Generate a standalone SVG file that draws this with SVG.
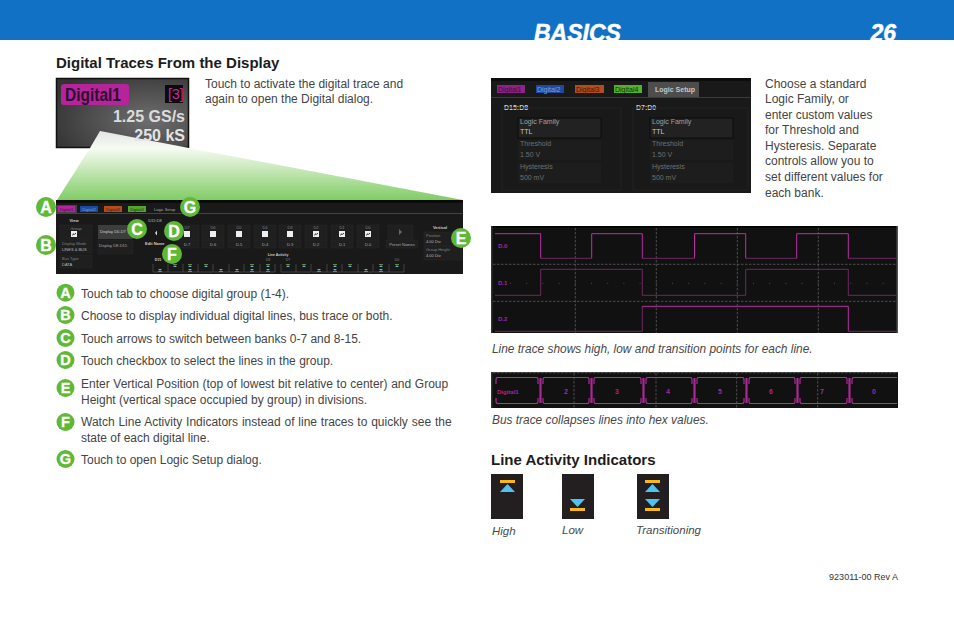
<svg xmlns="http://www.w3.org/2000/svg" xmlns:xlink="http://www.w3.org/1999/xlink" width="954" height="618" viewBox="0 0 954 618">
<style>
text{font-family:"Liberation Sans",Arial,sans-serif;fill:#444}
.b{font-size:12px}
.h{font-size:15px;font-weight:bold;fill:#1c1c1c}
.i{font-size:11.5px;font-style:italic;fill:#484848}
.c{font-size:11.9px;font-style:italic;fill:#484848}
.bl{font-size:16px;font-weight:bold;fill:#fff;text-anchor:middle;stroke:#fff;stroke-width:.3}
.bs{font-size:14.5px;font-weight:bold;fill:#fff;text-anchor:middle;stroke:#fff;stroke-width:.3}
.t{font-size:4px;fill:#808080}
.tc{font-size:4px;fill:#808080;text-anchor:middle}
.w{font-size:4px;fill:#ccc;text-anchor:middle;font-weight:bold}
.s{font-size:7px;fill:#6f6f6f}
.sw{font-size:7px;fill:#c8c8c8}
.g{stroke:#5c5c5c;stroke-width:.8;stroke-dasharray:2.5 1.5;fill:none}
.tr{stroke:#bb2fa4;stroke-width:1;fill:none}
.trd{stroke:#6c2a60;stroke-width:1;fill:none}
.bus{stroke:#b82ea2;stroke-width:1.100;fill:none}
.bar{stroke:#a62c94;stroke-width:2.200;fill:none}
.lab{font-size:6px;font-weight:bold;fill:#a8259a}
.box{fill:#1f1f1f;stroke:#2a2a2a;stroke-width:.5}
.hd{font-size:23px;font-weight:bold;font-style:italic;fill:#fff;stroke:#fff;stroke-width:.5}
</style>
<defs>
<linearGradient id="gr" x1="0" y1="0" x2="0" y2="1"><stop offset="0" stop-color="#e4e4e4"/><stop offset=".25" stop-color="#f6fbf2"/><stop offset="1" stop-color="#82cc66"/></linearGradient>
<radialGradient id="sc" cx=".7" cy=".6" r=".8"><stop offset="0" stop-color="#6e6e6e"/><stop offset="1" stop-color="#333"/></radialGradient>
<g id="hi"><rect x="-2" y="-3.800" width="4" height=".7" fill="#9fb04a"/><path d="M-2-1h4l-2-1.800z" fill="#5fb8dc"/></g>
<g id="lo"><rect x="-2" y="3.100" width="4" height=".7" fill="#9fb04a"/><path d="M-2 1h4l-2 1.800z" fill="#5fb8dc"/></g>
<g id="cb"><rect x="-3" y="-3" width="6" height="6" fill="#eee"/></g>
<g id="cc"><rect x="-3" y="-3" width="6" height="6" fill="#eee"/><path d="M-1.800 1.200L0-.2l.6.6 1.200-1.400" stroke="#222" fill="none"/></g>
</defs>

<g id="header"><rect width="954" height="40" fill="#1172c5"/>
<text x="534" y="41" class="hd">BASICS</text>
<text x="870.500" y="41" class="hd">26</text>
<rect y="40" width="954" height="3" fill="#fff"/></g>

<text class="h" x="56" y="68">Digital Traces From the Display</text>
<g id="screenshot"><rect x="56.500" y="78.500" width="132" height="69" fill="url(#sc)" stroke="#111" stroke-width="1.500"/>
<rect x="61" y="84" width="68" height="21" rx="3" fill="#b5249a"/>
<text x="65" y="101" textLength="56" lengthAdjust="spacingAndGlyphs" style="font-size:17.500px;font-weight:bold;fill:#2c1030">Digital1</text>
<rect x="165" y="85" width="18" height="18" fill="#0c0c0c"/>
<text x="168" y="99" style="font-size:14px;fill:#c22aa8">[3]</text></g>
<g id="zoom-wedge"><path d="M57 200L90 148L100 131L463 200Z" fill="url(#gr)"/></g>
<g id="screenshot-values">
<text x="185" y="122" text-anchor="end" style="font-size:16px;font-weight:bold;fill:#dcdcdc">1.25 GS/s</text>
<text x="185" y="141" text-anchor="end" style="font-size:16px;font-weight:bold;fill:#e4e4e4">250 kS</text></g>
<text class="b" x="205" y="88">Touch to activate the digital trace and</text>
<text class="b" x="205" y="103">again to open the Digital dialog.</text>

<g id="digital-dialog"><rect x="56" y="200" width="407" height="74" fill="#191919"/>
<rect x="56" y="200" width="407" height="3" fill="#0b0b0b"/>
<rect x="56" y="213" width="407" height="1" fill="#444"/>
<rect x="56" y="205" width="21" height="8" fill="#444"/>
<rect x="58" y="206" width="17" height="6" fill="#b5249a"/><text x="66.500" y="210.500" class="tc" style="fill:#401040">Digital1</text>
<rect x="80" y="206" width="18" height="6" fill="#1d4aa0"/><text x="89" y="210.500" class="tc" style="fill:#7aa0e0">Digital2</text>
<rect x="104" y="206" width="18" height="6" fill="#b04e1e"/><text x="113" y="210.500" class="tc" style="fill:#401808">Digital3</text>
<rect x="128" y="206" width="18" height="6" fill="#52a82e"/><text x="137" y="210.500" class="tc" style="fill:#153008">Digital4</text>
<text x="154" y="210.500" class="t" style="fill:#aaa">Logic Setup</text>
<text x="74" y="221.500" class="w">View</text>
<rect x="60" y="225" width="32" height="14" class="box"/><text x="76" y="229.500" class="tc">Group</text><use xlink:href="#cc" x="74" y="234"/>
<rect x="60" y="240" width="32" height="13" class="box"/><text x="62" y="244.500" class="t">Display Mode</text><text x="62" y="251" class="t" style="fill:#bbb">LINES &amp; BUS</text>
<rect x="60" y="255" width="32" height="13" class="box"/><text x="62" y="259.500" class="t">Bus Type</text><text x="62" y="266" class="t" style="fill:#bbb">DATA</text>
<rect x="98" y="225" width="35" height="14" fill="#3d3d3d"/><text x="100" y="233" class="t" style="fill:#ccc">Display D0-D7</text>
<rect x="98" y="240" width="35" height="14" class="box"/><text x="99" y="247" class="t" style="fill:#aaa">Display D8-D15</text>
<text x="155" y="221.500" class="tc" style="fill:#bbb">D15:D8</text>
<path d="M157 230.500l-2 2.500 2 2.500z" fill="#ddd"/>
<text x="145" y="245" class="w" style="text-anchor:start">Edit Name</text>
<g id="channels">
<rect x="177" y="225" width="22" height="14" class="box"/><rect x="202" y="225" width="22" height="14" class="box"/><rect x="228" y="225" width="22" height="14" class="box"/><rect x="254" y="225" width="22" height="14" class="box"/><rect x="279" y="225" width="22" height="14" class="box"/><rect x="305" y="225" width="22" height="14" class="box"/><rect x="331" y="225" width="22" height="14" class="box"/><rect x="357" y="225" width="22" height="14" class="box"/>
<text x="187" y="228.500" class="tc">D7</text><text x="213" y="228.500" class="tc">D6</text><text x="239" y="228.500" class="tc">D5</text><text x="265" y="228.500" class="tc">D4</text><text x="290" y="228.500" class="tc">D3</text><text x="316" y="228.500" class="tc">D2</text><text x="342" y="228.500" class="tc">D1</text><text x="368" y="228.500" class="tc">D0</text>
<use xlink:href="#cb" x="187" y="234"/><use xlink:href="#cb" x="213" y="234"/><use xlink:href="#cb" x="239" y="234"/><use xlink:href="#cb" x="265" y="234"/><use xlink:href="#cb" x="290" y="234"/><use xlink:href="#cc" x="316" y="234"/><use xlink:href="#cc" x="342" y="234"/><use xlink:href="#cc" x="368" y="234"/>
<rect x="177" y="240" width="22" height="8" class="box"/><rect x="202" y="240" width="22" height="8" class="box"/><rect x="228" y="240" width="22" height="8" class="box"/><rect x="254" y="240" width="22" height="8" class="box"/><rect x="279" y="240" width="22" height="8" class="box"/><rect x="305" y="240" width="22" height="8" class="box"/><rect x="331" y="240" width="22" height="8" class="box"/><rect x="357" y="240" width="22" height="8" class="box"/>
<text x="187" y="245.500" class="tc" style="fill:#aaa">D.7</text><text x="213" y="245.500" class="tc" style="fill:#aaa">D.6</text><text x="239" y="245.500" class="tc" style="fill:#aaa">D.5</text><text x="265" y="245.500" class="tc" style="fill:#aaa">D.4</text><text x="290" y="245.500" class="tc" style="fill:#aaa">D.3</text><text x="316" y="245.500" class="tc" style="fill:#aaa">D.2</text><text x="342" y="245.500" class="tc" style="fill:#aaa">D.1</text><text x="368" y="245.500" class="tc" style="fill:#aaa">D.0</text>
</g>
<rect x="388" y="225" width="25" height="14" class="box"/><path d="M399 229l3 3-3 3z" fill="#666"/>
<rect x="386" y="240" width="32" height="8" class="box"/><text x="402" y="245.500" class="tc" style="fill:#aaa">Preset Names</text>
<text x="440" y="228.500" class="w">Vertical</text>
<rect x="424" y="232" width="38" height="14" class="box"/><text x="426" y="236.500" class="t">Position</text><text x="426" y="242.500" class="t" style="fill:#bbb">4.00 Div</text>
<rect x="424" y="246" width="38" height="14" class="box"/><text x="426" y="250.500" class="t">Group Height</text><text x="426" y="256.500" class="t" style="fill:#bbb">4.00 Div</text>
<text x="278" y="255.500" class="w" style="font-size:3.500px">Line Activity</text>
<text x="158" y="261" class="w" style="font-size:3.500px">D15</text><text x="268" y="261" class="tc" style="font-size:3.500px">D8</text><text x="288" y="261" class="tc" style="font-size:3.500px">D7</text><text x="397" y="261" class="tc" style="font-size:3.500px">D0</text>
<g id="activity" fill="none" stroke="#6e6e6e" stroke-width=".5">
<path d="M153 264v8h15v-8M168 272h15v-8M183 272h15v-8M198 272h15v-8M214 272h15v-8M229 272h15v-8M245 272h15v-8M260 272h15v-8M281 264v8h15v-8M296 272h15v-8M312 272h15v-8M327 272h15v-8M343 272h15v-8M358 272h15v-8M374 272h15v-8M389 272h15v-8"/>
</g>
<use xlink:href="#lo" x="160" y="268"/><use xlink:href="#hi" x="175" y="268"/><use xlink:href="#hi" x="190" y="268"/><use xlink:href="#lo" x="190" y="268"/><use xlink:href="#hi" x="206" y="268"/><use xlink:href="#lo" x="221" y="268"/><use xlink:href="#lo" x="237" y="268"/><use xlink:href="#hi" x="252" y="268"/><use xlink:href="#lo" x="252" y="268"/><use xlink:href="#hi" x="268" y="268"/><use xlink:href="#lo" x="268" y="268"/><use xlink:href="#hi" x="288" y="268"/><use xlink:href="#hi" x="304" y="268"/><use xlink:href="#lo" x="319" y="268"/><use xlink:href="#hi" x="335" y="268"/><use xlink:href="#lo" x="335" y="268"/><use xlink:href="#hi" x="350" y="268"/><use xlink:href="#lo" x="366" y="268"/><use xlink:href="#hi" x="381" y="268"/><use xlink:href="#lo" x="381" y="268"/><use xlink:href="#hi" x="397" y="268"/>
</g>

<g id="callouts" fill="#5fb936">
<circle cx="46" cy="207" r="10"/><circle cx="190" cy="207" r="10"/><circle cx="46" cy="245" r="10"/><circle cx="137" cy="229" r="10"/><circle cx="174" cy="231" r="10"/><circle cx="172" cy="254" r="10"/><circle cx="461" cy="238" r="10"/>
<circle cx="65.500" cy="292.700" r="9"/><circle cx="65.500" cy="315" r="9"/><circle cx="65.500" cy="338" r="9"/><circle cx="65.500" cy="360" r="9"/><circle cx="65.500" cy="388" r="9"/><circle cx="65.500" cy="422" r="9"/><circle cx="65.500" cy="459" r="9"/>
</g>
<g id="callout-labels">
<text class="bl" x="46" y="212.700">A</text><text class="bl" x="190" y="212.700">G</text><text class="bl" x="46" y="250.700">B</text><text class="bl" x="137" y="234.700">C</text><text class="bl" x="174" y="236.700">D</text><text class="bl" x="172" y="259.700">F</text><text class="bl" x="461" y="243.700">E</text>
<text class="bs" x="65.500" y="298">A</text><text class="bs" x="65.500" y="320.200">B</text><text class="bs" x="65.500" y="343.200">C</text><text class="bs" x="65.500" y="365.200">D</text><text class="bs" x="65.500" y="393.200">E</text><text class="bs" x="65.500" y="427.200">F</text><text class="bs" x="65.500" y="464.200">G</text>
</g>
<g id="steps">
<text class="b" x="81" y="298">Touch tab to choose digital group (1-4).</text>
<text class="b" x="81" y="320">Choose to display individual digital lines, bus trace or both.</text>
<text class="b" x="81" y="343">Touch arrows to switch between banks 0-7 and 8-15.</text>
<text class="b" x="81" y="365">Touch checkbox to select the lines in the group.</text>
<text class="b" x="81" y="388" word-spacing=".27">Enter Vertical Position (top of lowest bit relative to center) and Group</text>
<text class="b" x="81" y="404">Height (vertical space occupied by group) in divisions.</text>
<text class="b" x="81" y="426" word-spacing=".5">Watch Line Activity Indicators instead of line traces to quickly see the</text>
<text class="b" x="81" y="442">state of each digital line.</text>
<text class="b" x="81" y="464">Touch to open Logic Setup dialog.</text>
</g>

<g id="logic-setup"><rect x="491" y="78" width="260" height="115" fill="#191919"/>
<rect x="491" y="78" width="260" height="3" fill="#0d0d0d"/>
<rect x="491" y="97" width="260" height="1" fill="#3c3c3c"/>
<rect x="497" y="85" width="28" height="8" fill="#8d2288"/><text x="498" y="92" class="sw" style="fill:#3a103a">Digital1</text>
<rect x="536" y="85" width="28" height="8" fill="#1d4aa0"/><text x="537" y="92" class="sw" style="fill:#7aa0e0">Digital2</text>
<rect x="575" y="85" width="29" height="8" fill="#b04e1e"/><text x="576" y="92" class="sw" style="fill:#401808">Digital3</text>
<rect x="614" y="85" width="28" height="8" fill="#52b02e"/><text x="615" y="92" class="sw" style="fill:#153008">Digital4</text>
<rect x="648" y="82" width="51" height="15" fill="#4d4d4d"/><text x="655" y="92" class="sw" style="font-weight:bold">Logic Setup</text>
<text x="504" y="110" class="sw" style="font-weight:bold">D15:D8</text><text x="636" y="110" class="sw" style="font-weight:bold">D7:D0</text>
<rect x="502" y="108" width="119" height="82" fill="none" stroke="#222"/><rect x="633" y="108" width="115" height="82" fill="none" stroke="#222"/>
<rect x="518" y="118" width="83" height="20" fill="#222" stroke="#0c0c0c"/><rect x="650" y="118" width="83" height="20" fill="#222" stroke="#0c0c0c"/>
<rect x="518" y="140" width="83" height="20" fill="#1d1d1d"/><rect x="650" y="140" width="83" height="20" fill="#1d1d1d"/>
<rect x="518" y="163" width="83" height="20" fill="#1d1d1d"/><rect x="650" y="163" width="83" height="20" fill="#1d1d1d"/>
<text x="520" y="124" class="s" style="fill:#a0a0a0">Logic Family</text><text x="520" y="134" class="sw">TTL</text>
<text x="520" y="146" class="s">Threshold</text><text x="520" y="157" class="s">1.50 V</text>
<text x="520" y="169" class="s">Hysteresis</text><text x="520" y="180" class="s">500 mV</text>
<text x="652" y="124" class="s" style="fill:#a0a0a0">Logic Family</text><text x="652" y="134" class="sw">TTL</text>
<text x="652" y="146" class="s">Threshold</text><text x="652" y="157" class="s">1.50 V</text>
<text x="652" y="169" class="s">Hysteresis</text><text x="652" y="180" class="s">500 mV</text>
</g>
<g id="logic-text">
<text class="b" x="765" y="88">Choose a standard</text>
<text class="b" x="765" y="103">Logic Family, or</text>
<text class="b" x="765" y="119">enter custom values</text>
<text class="b" x="765" y="134">for Threshold and</text>
<text class="b" x="765" y="150">Hysteresis. Separate</text>
<text class="b" x="765" y="165">controls allow you to</text>
<text class="b" x="765" y="181">set different values for</text>
<text class="b" x="765" y="197">each bank.</text>
</g>

<g id="line-trace"><rect x="491" y="226" width="407" height="107" fill="#111"/>
<rect x="491" y="226" width="407" height="1.500" fill="#000"/><rect x="491" y="226" width="1.500" height="107" fill="#333"/><rect x="896.500" y="226" width="1.500" height="107" fill="#555"/>
<path class="g" d="M575.300 228V333M656.300 228V333M737.300 228V333M818.300 228V333M493 264.300H897M493 301.300H897"/>
<path d="M510 283.300H896" stroke="#4a4a4a" stroke-width="1" stroke-dasharray="1 15.200" fill="none"/>
<path class="trd" d="M540.700 258.300H591.700M642.300 258.300H694.500M745.700 258.300H796.700M848.300 258.300H896"/>
<path class="tr" d="M495 233.700H540.700V258.300M591.700 258.300V233.700H642.300V258.300M694.500 258.300V233.700H745.700V258.300M796.700 258.300V233.700H848.300V258.300"/>
<path class="trd" d="M495 295.300H540.700V269.300H642.300V295.300H745.700V269.300H848.300V295.300H896"/>
<path class="trd" d="M495 331.300H642.300V306.300"/><path class="tr" d="M642.300 306.300H848.300V331.300"/><path class="trd" d="M848.300 331.300H896"/>
<text class="lab" x="498" y="248">D.0</text><text class="lab" x="498" y="285">D.1</text><text class="lab" x="498" y="321">D.2</text>
</g>
<text class="c" x="492" y="353">Line trace shows high, low and transition points for each line.</text>

<g id="bus-trace"><rect x="491" y="372" width="407" height="36" fill="#111"/>
<rect x="491" y="372" width="407" height="1" fill="#333"/><rect x="491" y="372" width="1.500" height="36" fill="#333"/>
<path class="g" d="M574 373V408M656 373V408M736.700 373V408M817.700 373V408M493 372.800H897"/>
<path class="bus" d="M496 384V379L497 377.500H537L538 379V384M496 398V402L497 403.500H537L538 402V398M543 384V379L544 377.500H588L589 379V384M543 398V402L544 403.500H588L589 402V398M594 384V379L595 377.500H640L641 379V384M594 398V402L595 403.500H640L641 402V398M646 384V379L647 377.500H691L692 379V384M646 398V402L647 403.500H691L692 402V398M697 384V379L698 377.500H743L744 379V384M697 398V402L698 403.500H743L744 402V398M749 384V379L750 377.500H794L795 379V384M749 398V402L750 403.500H794L795 402V398M800 384V379L801 377.500H846L847 379V384M800 398V402L801 403.500H846L847 402V398M852 384V379L853 377.500H897M852 398V402L853 403.500H897"/>
<path class="bar" d="M540.500 378V403M591.500 378V403M643.500 378V403M694.500 378V403M746.500 378V403M797.500 378V403M849.500 378V403"/>
<text class="lab" x="497" y="393.500">Digital1</text><text class="lab" x="564" y="393.500" style="font-size:7px">2</text><text class="lab" x="615" y="393.500" style="font-size:7px">3</text><text class="lab" x="666" y="393.500" style="font-size:7px">4</text><text class="lab" x="718" y="393.500" style="font-size:7px">5</text><text class="lab" x="769" y="393.500" style="font-size:7px">6</text><text class="lab" x="820" y="393.500" style="font-size:7px">7</text><text class="lab" x="872" y="393.500" style="font-size:7px">0</text>
</g>
<text class="c" x="492" y="424">Bus trace collapses lines into hex values.</text>

<text class="h" x="491" y="465">Line Activity Indicators</text>
<g id="indicator-high"><rect x="491" y="474" width="32" height="45" fill="#231f20"/><rect x="500" y="480" width="15" height="3" fill="#fdb913"/><path d="M500 492h15l-7.500-8z" fill="#4fc3f0"/></g>
<g id="indicator-low"><rect x="562" y="474" width="32" height="45" fill="#231f20"/><rect x="570" y="508" width="15" height="3" fill="#fdb913"/><path d="M570 499h15l-7.500 8z" fill="#4fc3f0"/></g>
<g id="indicator-transitioning"><rect x="637" y="474" width="32" height="45" fill="#231f20"/><rect x="645" y="480" width="15" height="3" fill="#fdb913"/><path d="M645 492h15l-7.500-8z" fill="#4fc3f0"/><rect x="645" y="508" width="15" height="3" fill="#fdb913"/><path d="M645 499h15l-7.500 8z" fill="#4fc3f0"/></g>
<text class="i" x="492" y="535">High</text><text class="i" x="562" y="534">Low</text><text class="i" x="636" y="534">Transitioning</text>
<text x="898" y="580" text-anchor="end" style="font-size:9px;fill:#333">923011-00 Rev A</text>
</svg>
